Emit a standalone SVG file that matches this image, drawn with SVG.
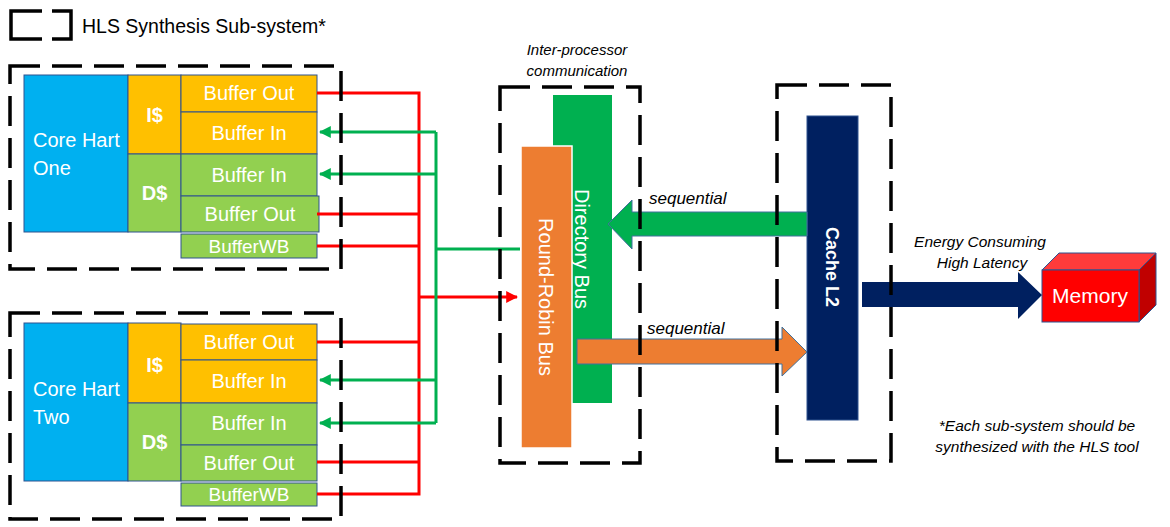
<svg xmlns="http://www.w3.org/2000/svg" width="1170" height="527" viewBox="0 0 1170 527">
<defs>
<style>
.t{font-family:"Liberation Sans",Arial,sans-serif;fill:#fff}
.it{font-family:"Liberation Sans",Arial,sans-serif;font-style:italic;fill:#000}
.cell{stroke:#2F528F;stroke-width:1}
.blue{fill:#00B0F0}.yel{fill:#FFC000}.grn{fill:#92D050}
.dash{fill:none;stroke:#000;stroke-width:3.5;stroke-dasharray:30 12}
.red{fill:none;stroke:#FF0000;stroke-width:3}
.gl{fill:none;stroke:#00B050;stroke-width:3}
</style>
<marker id="ar" viewBox="0 0 10 10" refX="9" refY="5" markerWidth="4" markerHeight="4" orient="auto"><path d="M0,0 L10,5 L0,10 z" fill="#FF0000"/></marker>
<marker id="ag" viewBox="0 0 10 10" refX="9" refY="5" markerWidth="4" markerHeight="4" orient="auto"><path d="M0,0 L10,5 L0,10 z" fill="#00B050"/></marker>
</defs>
<rect width="1170" height="527" fill="#fff"/>

<g id="legend">
<path d="M42,11 H11 V39 H42 M52,11 H71 V39 H52" fill="none" stroke="#000" stroke-width="3.5"/>
<text x="82" y="33" font-size="19.5" style="font-family:'Liberation Sans',Arial,sans-serif" fill="#000">HLS Synthesis Sub-system*</text>
</g>

<g id="core1">
<rect class="cell blue" x="24" y="75" width="104" height="157"/>
<text class="t" x="33" y="147" font-size="20">Core Hart</text>
<text class="t" x="33" y="175" font-size="20">One</text>
<rect class="cell yel" x="128" y="75" width="53" height="79"/>
<text class="t" x="154.5" y="122" font-size="20" font-weight="bold" text-anchor="middle">I$</text>
<rect class="cell grn" x="128" y="154" width="53" height="78"/>
<text class="t" x="154.5" y="200" font-size="20" font-weight="bold" text-anchor="middle">D$</text>
<rect class="cell yel" x="181" y="75" width="136" height="37"/>
<text class="t" x="249" y="100" font-size="20" text-anchor="middle">Buffer Out</text>
<rect class="cell yel" x="181" y="112" width="136" height="42"/>
<text class="t" x="249" y="140" font-size="20" text-anchor="middle">Buffer In</text>
<rect class="cell grn" x="181" y="154" width="136" height="42"/>
<text class="t" x="249" y="182" font-size="20" text-anchor="middle">Buffer In</text>
<rect class="cell grn" x="181" y="196" width="138" height="36"/>
<text class="t" x="250" y="221" font-size="20" text-anchor="middle">Buffer Out</text>
<rect class="cell grn" x="181" y="234" width="136" height="24"/>
<text class="t" x="249" y="253" font-size="19" text-anchor="middle">BufferWB</text>
</g>

<g id="core2">
<rect class="cell blue" x="24" y="323" width="104" height="158"/>
<text class="t" x="33" y="396" font-size="20">Core Hart</text>
<text class="t" x="33" y="424" font-size="20">Two</text>
<rect class="cell yel" x="128" y="323" width="53" height="80"/>
<text class="t" x="154.5" y="372" font-size="20" font-weight="bold" text-anchor="middle">I$</text>
<rect class="cell grn" x="128" y="403" width="53" height="78"/>
<text class="t" x="154.5" y="449" font-size="20" font-weight="bold" text-anchor="middle">D$</text>
<rect class="cell yel" x="181" y="324" width="136" height="36"/>
<text class="t" x="249" y="349" font-size="20" text-anchor="middle">Buffer Out</text>
<rect class="cell yel" x="181" y="360" width="136" height="43"/>
<text class="t" x="249" y="388" font-size="20" text-anchor="middle">Buffer In</text>
<rect class="cell grn" x="181" y="403" width="136" height="42"/>
<text class="t" x="249" y="430" font-size="20" text-anchor="middle">Buffer In</text>
<rect class="cell grn" x="181" y="445" width="136" height="36"/>
<text class="t" x="249" y="470" font-size="20" text-anchor="middle">Buffer Out</text>
<rect class="cell grn" x="181" y="483" width="136" height="23"/>
<text class="t" x="249" y="501" font-size="19" text-anchor="middle">BufferWB</text>
</g>

<g id="interproc">
<text class="it" x="577" y="55" font-size="15" text-anchor="middle">Inter-processor</text>
<text class="it" x="577" y="76" font-size="15" text-anchor="middle">communication</text>
<rect x="553" y="95" width="59" height="308" fill="#00B050"/>
<text class="t" font-size="20" text-anchor="middle" transform="translate(575,249) rotate(90)">Directory Bus</text>
<rect x="521" y="146" width="51" height="302" fill="#ED7D31" stroke="#fff" stroke-width="1.5"/>
<text class="t" font-size="20" text-anchor="middle" transform="translate(539,297) rotate(90)">Round-Robin Bus</text>
</g>

<g id="cacheL2">
<rect x="807" y="116" width="51" height="304" fill="#002060" stroke="#2F528F" stroke-width="1"/>
<text class="t" font-size="18" font-weight="bold" text-anchor="middle" transform="translate(826,267) rotate(90)">Cache L2</text>
</g>

<g id="memory">
<polygon points="1042,270 1059,253 1156,253 1139,270" fill="#FF3B3B" stroke="#2F528F" stroke-width="1"/>
<polygon points="1139,270 1156,253 1156,305 1139,322" fill="#C00000" stroke="#2F528F" stroke-width="1"/>
<rect x="1042" y="270" width="97" height="52" fill="#FF0000" stroke="#2F528F" stroke-width="1"/>
<text class="t" x="1090" y="303" font-size="21" text-anchor="middle">Memory</text>
</g>

<g id="connectors">
<path class="red" d="M317,93 H419 V494 H317 M317,214 H419 M317,246 H419 M317,342 H419 M317,462 H419"/>
<path class="red" d="M419,297 H517" marker-end="url(#ar)"/>
<path class="gl" d="M436,132 V423 M436,249 H520"/>
<path class="gl" d="M436,132 H320" marker-end="url(#ag)"/>
<path class="gl" d="M436,174 H320" marker-end="url(#ag)"/>
<path class="gl" d="M436,380 H320" marker-end="url(#ag)"/>
<path class="gl" d="M436,423 H320" marker-end="url(#ag)"/>
<polygon points="807,212 632,212 632,200 608,224 632,249 632,236 807,236" fill="#00B050" stroke="#41719C" stroke-width="1"/>
<text class="it" x="649" y="204" font-size="17" font-weight="normal">sequential</text>
<polygon points="577,339 782,339 782,327 807,352 782,376 782,364 577,364" fill="#ED7D31" stroke="#41719C" stroke-width="1"/>
<text class="it" x="647" y="334" font-size="17">sequential</text>
<polygon points="862,282 1018,282 1018,272 1042,295 1018,319 1018,307 862,307" fill="#002060"/>
<text class="it" x="980" y="247" font-size="15.5" text-anchor="middle">Energy Consuming</text>
<text class="it" x="982" y="268" font-size="15.5" text-anchor="middle">High Latency</text>
</g>

<g id="boxes">
<rect class="dash" x="10" y="66" width="331" height="203"/>
<rect class="dash" x="10" y="313" width="331" height="206"/>
<rect class="dash" x="500" y="87" width="140" height="376"/>
<rect class="dash" x="777" y="85" width="114" height="376"/>
</g>

<g id="note">
<text class="it" x="1037" y="431" font-size="15.5" text-anchor="middle">*Each sub-system should be</text>
<text class="it" x="1037" y="452" font-size="15.5" text-anchor="middle">synthesized with the HLS tool</text>
</g>
</svg>
